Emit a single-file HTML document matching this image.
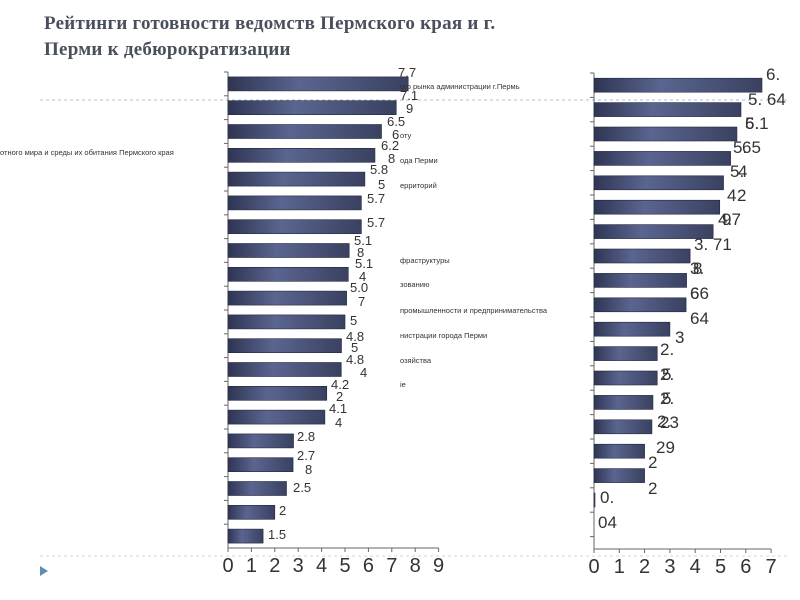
<!DOCTYPE html>
<html><head><meta charset="utf-8"><style>
html,body{margin:0;padding:0;background:#fff;width:800px;height:600px;overflow:hidden}
</style></head><body>
<svg width="800" height="600" xmlns="http://www.w3.org/2000/svg" font-family="Liberation Sans, sans-serif">
<defs>
<linearGradient id="g" x1="0" y1="0" x2="1" y2="0">
<stop offset="0" stop-color="#2f3553"/><stop offset="0.4" stop-color="#5a6590"/><stop offset="1" stop-color="#3a4160"/>
</linearGradient>
</defs>
<text x="44" y="29" font-family="Liberation Serif, DejaVu Serif, serif" font-weight="bold" font-size="19" fill="#4a4f5c" letter-spacing="0.25">Рейтинги  готовности ведомств Пермского края и г.</text>
<text x="44" y="55" font-family="Liberation Serif, DejaVu Serif, serif" font-weight="bold" font-size="19" fill="#4a4f5c" letter-spacing="0.25">Перми к дебюрократизации</text>
<line x1="40" y1="100" x2="790" y2="100" stroke="#a9c3d6" stroke-dasharray="3,3"/>
<line x1="40" y1="556" x2="790" y2="556" stroke="#c9d8e3" stroke-dasharray="3,3"/>
<polygon points="40,566 48,571 40,576" fill="#5a8fb8"/>
<g id="L"></g><g id="R"></g>
<g font-size="7.5" fill="#333">
<text x="400" y="89">ого рынка администрации  г.Пермь</text>
<text x="400" y="138">оту</text>
<text x="0" y="155">отного мира и среды их обитания Пермского края</text>
<text x="400" y="163">ода Перми</text>
<text x="400" y="188">ерриторий</text>
<text x="400" y="263">фраструктуры</text>
<text x="400" y="287">зованию</text>
<text x="400" y="313">промышленности и предпринимательства</text>
<text x="400" y="338">нистрации города Перми</text>
<text x="400" y="363">озяйства</text>
<text x="400" y="387">іе</text>
</g>
<g id="LL" font-size="13" fill="#333"></g>
<g id="RL" font-size="17" fill="#333"></g>
</svg>
<script>
const NS="http://www.w3.org/2000/svg";
function el(p,t,a,txt){const e=document.createElementNS(NS,t);for(const k in a)e.setAttribute(k,a[k]);if(txt!=null)e.textContent=txt;p.appendChild(e);return e;}
function chart(g,x0,unit,max,top,bot,slot,vals){
  el(g,"line",{x1:x0,y1:top,x2:x0,y2:bot,stroke:"#666"});
  el(g,"line",{x1:x0,y1:bot,x2:x0+unit*max,y2:bot,stroke:"#666"});
  for(let i=0;i<=max;i++){el(g,"line",{x1:x0+unit*i,y1:bot,x2:x0+unit*i,y2:bot+4,stroke:"#666"});
    el(g,"text",{x:x0+unit*i,y:bot+24,"font-size":20,fill:"#333","text-anchor":"middle"},String(i));}
  for(let y=top;y<bot;y+=slot)el(g,"line",{x1:x0-4,y1:y,x2:x0,y2:y,stroke:"#666"});
  vals.forEach((v,i)=>{const cy=top+slot*(i+0.5);
    el(g,"rect",{x:x0,y:cy-7,width:Math.max(v*unit,1),height:14,fill:"url(#g)",stroke:"#222840","stroke-width":0.6});
  });
}
chart(document.getElementById("L"),228,23.4,9,72,548,23.8,
[7.7,7.19,6.56,6.28,5.85,5.7,5.7,5.18,5.14,5.07,5,4.85,4.84,4.22,4.14,2.8,2.78,2.5,2,1.5]);
chart(document.getElementById("R"),594,25.3,7,73,549,24.4,
[6.64,5.81,5.65,5.4,5.12,4.97,4.71,3.8,3.66,3.64,3,2.5,2.5,2.33,2.29,2,2,0.04]);
const LL=[["7.7",398,77],["7.1",400,100],["9",406,113],["6.5",387,126],["6",392,139],["6.2",381,150],["8",388,163],
["5.8",370,174],["5",378,189],["5.7",367,203],["5.7",367,227],["5.1",354,245],["8",357,257],["5.1",355,268],["4",359,281],
["5.0",350,292],["7",358,306],["5",350,325],["4.8",346,341],["5",351,352],["4.8",346,364],["4",360,377],["4.2",331,389],["2",336,401],
["4.1",329,413],["4",335,427],["2.8",297,441],["2.7",297,460],["8",305,474],["2.5",293,492],["2",279,515],["1.5",268,539]];
LL.forEach(t=>el(document.getElementById("LL"),"text",{x:t[1],y:t[2]},t[0]));
const RL=[["6.",766,80],["5. 64",748,105],["6.1",745,129],["5.",745,129],["5.",733,153],["65",742,153],["5.",730,177],["4",738,177],
["4",727,201],["2",737,201],["4.",718,225],["97",722,225],["3. 71",694,250],["3.",690,274],["8",693,274],["66",690,299],["6",690,299],
["64",690,324],["3",675,343],["2.",660,355],["2.",660,380],["5",662,380],["2.",660,404],["5",662,404],["23",660,428],["2.",657,427],
["29",656,453],["2",648,468],["2",648,494],["0.",600,503],["04",598,528]];
RL.forEach(t=>el(document.getElementById("RL"),"text",{x:t[1],y:t[2]},t[0]));
</script>
</body></html>
